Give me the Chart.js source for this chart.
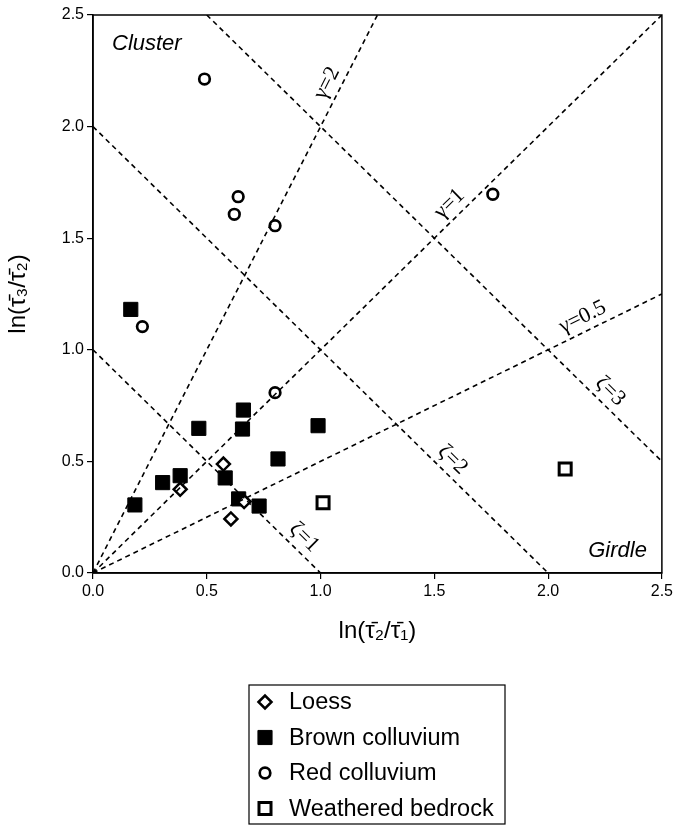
<!DOCTYPE html>
<html>
<head>
<meta charset="utf-8">
<script src="https://cdn.jsdelivr.net/npm/chart.js@4.4.1/dist/chart.umd.min.js"></script>
<style>
  html, body { margin: 0; padding: 0; background: #fff; }
  #wrap { width: 676px; height: 826px; position: relative; }
</style>
</head>
<body>
<div id="wrap"><canvas id="fabric-chart"></canvas></div>
<script>
// --- data ---
const loessX = [0.573, 0.383, 0.664, 0.606];
const loessY = [0.488, 0.375, 0.320, 0.242];

const brownX = [0.166, 0.184, 0.306, 0.383, 0.465, 0.661, 0.657, 0.989, 0.813, 0.581, 0.640, 0.730];
const brownY = [1.181, 0.305, 0.405, 0.436, 0.648, 0.730, 0.645, 0.660, 0.511, 0.426, 0.332, 0.300];

const redX = [0.490, 0.638, 0.621, 0.800, 1.757, 0.217, 0.800];
const redY = [2.213, 1.686, 1.607, 1.556, 1.697, 1.104, 0.808];

const bedrockX = [1.011, 2.075];
const bedrockY = [0.315, 0.466];

const seriesNames = ['Loess', 'Brown colluvium', 'Red colluvium', 'Weathered bedrock'];

// reference lines: zeta = x + y, gamma = y / x
const zetaLevels = [1, 2, 3];
const gammaLevels = [0.5, 1, 2];
const axisMax = 2.5;
const tickStep = 0.5;

const pts = (xs, ys) => xs.map((x, i) => ({ x: x, y: ys[i] }));

function zetaLine(z) {
    return [
        { x: Math.max(0, z - axisMax), y: Math.min(z, axisMax) },
        { x: Math.min(z, axisMax), y: Math.max(0, z - axisMax) }
    ];
}
function gammaLine(g) {
    const xe = Math.min(axisMax, axisMax / g);
    return [{ x: 0, y: 0 }, { x: xe, y: g * xe }];
}

const FONT = "'Liberation Sans', Arial, sans-serif";
const SERIF = "'Liberation Serif', 'Times New Roman', serif";

const markerStyles = [
    { pointStyle: 'rectRot', radius: 6.5, borderWidth: 2.5, fill: '#fff' },
    { pointStyle: 'rect', radius: 10, borderWidth: 1, fill: '#000' },
    { pointStyle: 'circle', radius: 5.3, borderWidth: 2.7, fill: '#fff' },
    { pointStyle: 'rect', radius: 8.5, borderWidth: 3, fill: '#fff' }
];

const markerData = [pts(loessX, loessY), pts(brownX, brownY), pts(redX, redY), pts(bedrockX, bedrockY)];

const datasets = [];

// dashed guide lines
zetaLevels.forEach(z => {
    datasets.push({
        label: 'ζ=' + z, data: zetaLine(z), showLine: true, pointRadius: 0,
        borderColor: '#000', borderWidth: 1.6, borderDash: [5, 4], guide: 'zeta', level: z
    });
});
gammaLevels.forEach(g => {
    datasets.push({
        label: 'γ=' + g, data: gammaLine(g), showLine: true, pointRadius: 0,
        borderColor: '#000', borderWidth: 1.6, borderDash: [5, 4], guide: 'gamma', level: g
    });
});

// sample markers
markerData.forEach((d, i) => {
    const m = markerStyles[i];
    datasets.push({
        label: seriesNames[i], data: d, showLine: false,
        pointStyle: m.pointStyle, pointRadius: m.radius, borderWidth: m.borderWidth,
        pointBorderWidth: m.borderWidth,
        backgroundColor: m.fill, borderColor: '#000', marker: i
    });
});

// where along each line its label sits (x value)
const guideLabelAt = {
    'zeta-1': 0.885, 'zeta-2': 1.537, 'zeta-3': 2.23,
    'gamma-0.5': 2.179, 'gamma-1': 1.61, 'gamma-2': 1.083
};

const framePlugin = {
    id: 'frame',
    afterDatasetsDraw(chart) {
        const { ctx, chartArea: a } = chart;
        ctx.save();
        ctx.strokeStyle = '#000';
        ctx.lineWidth = 1.5;
        ctx.strokeRect(a.left, a.top, a.right - a.left, a.bottom - a.top);
        ctx.restore();
    }
};

const guideLabelPlugin = {
    id: 'guideLabels',
    afterDatasetsDraw(chart) {
        const { ctx, scales: { x, y } } = chart;
        ctx.save();
        ctx.fillStyle = '#000';
        ctx.font = '22px ' + SERIF;
        ctx.textAlign = 'center';
        ctx.textBaseline = 'middle';
        chart.data.datasets.forEach(ds => {
            if (!ds.guide) return;
            const t = guideLabelAt[ds.guide + '-' + ds.level];
            const yv = ds.guide === 'zeta' ? ds.level - t : ds.level * t;
            const p0 = ds.data[0], p1 = ds.data[1];
            const dx = x.getPixelForValue(p1.x) - x.getPixelForValue(p0.x);
            const dy = y.getPixelForValue(p1.y) - y.getPixelForValue(p0.y);
            const ang = Math.atan2(dy, dx);
            const len = Math.hypot(dx, dy);
            // normal pointing upward on the page
            let nx = dy / len, ny = -dx / len;
            if (ny > 0) { nx = -nx; ny = -ny; }
            const off = 14;
            const px = x.getPixelForValue(t) + nx * off;
            const py = y.getPixelForValue(yv) + ny * off;
            ctx.save();
            ctx.translate(px, py);
            ctx.rotate(ang);
            ctx.fillText(ds.label, 0, 0);
            ctx.restore();
        });

        // region names
        ctx.font = 'italic 22px ' + FONT;
        ctx.textBaseline = 'alphabetic';
        ctx.textAlign = 'left';
        ctx.fillText('Cluster', x.left + 19, y.top + 35);
        ctx.textAlign = 'right';
        ctx.fillText('Girdle', x.right - 15, y.bottom - 16);
        ctx.restore();
    }
};

const boxLegendPlugin = {
    id: 'boxLegend',
    afterDraw(chart) {
        const ctx = chart.ctx;
        const left = 249, top = 685, right = 505, bottom = 824;
        const rowTop = 702, rowGap = 35.5;
        ctx.save();
        ctx.strokeStyle = '#000';
        ctx.lineWidth = 1.2;
        ctx.strokeRect(left, top, right - left, bottom - top);
        ctx.font = '23.5px ' + FONT;
        ctx.textBaseline = 'middle';
        ctx.textAlign = 'left';
        seriesNames.forEach((name, i) => {
            const m = markerStyles[i];
            const cy = rowTop + i * rowGap;
            ctx.fillStyle = m.fill;
            ctx.strokeStyle = '#000';
            ctx.lineWidth = m.borderWidth;
            Chart.helpers.drawPoint(ctx, {
                pointStyle: m.pointStyle, radius: m.radius, rotation: 0, borderWidth: m.borderWidth
            }, 265, cy);
            ctx.fillStyle = '#000';
            ctx.fillText(name, 289, cy + 1);
        });
        ctx.restore();
    }
};

const tickFont = { family: FONT, size: 16 };

new Chart(document.getElementById('fabric-chart'), {
    type: 'scatter',
    data: { datasets: datasets },
    options: {
        responsive: true,
        maintainAspectRatio: false,
        animation: false,
        devicePixelRatio: 1,
        layout: { padding: { top: 15, right: 11, bottom: 173, left: 0 } },
        plugins: { legend: { display: false }, tooltip: { enabled: false } },
        scales: {
            x: {
                type: 'linear', min: 0, max: axisMax,
                afterFit: s => { s.height = 80; },
                ticks: { stepSize: tickStep, color: '#000', font: tickFont, padding: 3,
                         callback: v => v.toFixed(1) },
                grid: { drawOnChartArea: false, drawTicks: true, tickLength: 6, color: '#000', lineWidth: 1.2 },
                border: { color: '#000', width: 1.5 },
                title: { display: true, text: 'ln(\u03C4\u0304\u2082/\u03C4\u0304\u2081)', color: '#000',
                         font: { family: FONT, size: 24 }, padding: { top: 4, bottom: 7 } }
            },
            y: {
                type: 'linear', min: 0, max: axisMax,
                afterFit: s => { s.width = 93; },
                ticks: { stepSize: tickStep, color: '#000', font: tickFont, padding: 3,
                         callback: v => v.toFixed(1) },
                grid: { drawOnChartArea: false, drawTicks: true, tickLength: 6, color: '#000', lineWidth: 1.2 },
                border: { color: '#000', width: 1.5 },
                title: { display: true, text: 'ln(\u03C4\u0304\u2083/\u03C4\u0304\u2082)', color: '#000',
                         font: { family: FONT, size: 24 }, padding: { top: 4, bottom: 4 } }
            }
        }
    },
    plugins: [framePlugin, guideLabelPlugin, boxLegendPlugin]
});
</script>
</body>
</html>
